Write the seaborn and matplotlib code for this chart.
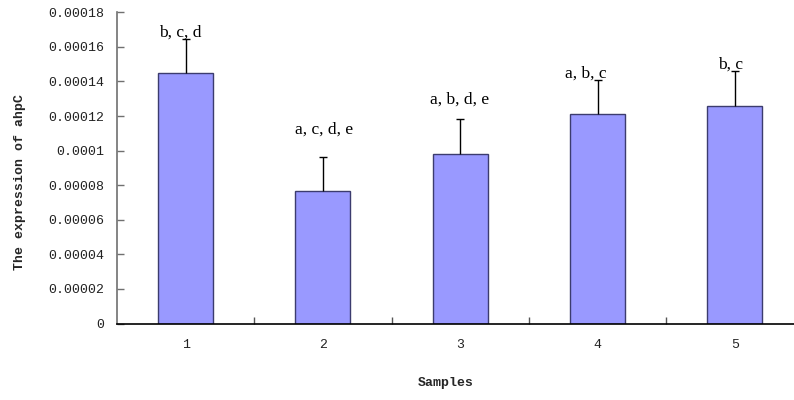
import matplotlib
matplotlib.use("Agg")
import matplotlib.pyplot as plt
import matplotlib.ticker as mticker
import numpy as np
import pandas as pd
import seaborn as sns

# Expression of ahpC per sample, with the upper standard deviation
samples = ["1", "2", "3", "4", "5"]
expression = [0.000145, 0.0000765, 0.000098, 0.000121, 0.000126]
std_dev = [0.0000195, 0.00002, 0.00002, 0.00002, 0.00002]
letters = ["b, c, d", "a, c, d, e", "a, b, d, e", "a, b, c", "b, c"]

# per-label nudge (points) relative to the top of each error bar
label_nudge = [(-3.6, 1.7), (0.7, 16.6), (-0.7, 11.2), (-8.4, 1.4), (-2.9, 1.4)]

df = pd.DataFrame({"Samples": samples, "Expression": expression})

sns.set_theme(style="white")
plt.rcParams["font.family"] = ["Liberation Mono", "DejaVu Sans"]

fig = plt.figure(figsize=(7.94, 4.0), dpi=100)
ax = fig.add_axes([117 / 794, 76.5 / 400, 686.5 / 794, 311.2 / 400])

sns.barplot(data=df, x="Samples", y="Expression", color="#9999FF",
            saturation=1, width=0.40, edgecolor="#3c3c6e", linewidth=1.0,
            errorbar=None, ax=ax)

pos = np.arange(len(samples))
_, caps, _ = ax.errorbar(pos, expression,
                         yerr=[np.zeros(len(std_dev)), std_dev],
                         fmt="none", ecolor="black", elinewidth=1.0,
                         capsize=3, capthick=1.0)
# keep only the upper caps (one-sided error bars)
for cap in caps:
    if np.allclose(cap.get_ydata(), expression):
        cap.set_visible(False)

for x, v, e, txt, (dx, dy) in zip(pos, expression, std_dev, letters, label_nudge):
    ax.annotate(txt, xy=(x, v + e), xytext=(dx, dy), textcoords="offset points",
                ha="center", va="baseline", fontsize=12.5,
                family=["Liberation Serif", "DejaVu Serif"], color="black")

ax.set_xlim(-0.5, 4.5)
ax.set_ylim(0, 0.00018)
ax.yaxis.set_major_locator(mticker.MultipleLocator(0.00002))


def excel_general(v, _):
    s = f"{v:.5f}".rstrip("0").rstrip(".")
    return s if s else "0"


ax.yaxis.set_major_formatter(mticker.FuncFormatter(excel_general))
ax.tick_params(axis="y", direction="in", length=5, width=1, color="#707070",
               pad=9, labelsize=9.5, labelcolor="#222222", left=True)
ax.tick_params(axis="x", which="major", length=0, pad=11, labelsize=9.5,
               labelcolor="#222222")
ax.xaxis.set_minor_locator(mticker.FixedLocator([0.5, 1.5, 2.5, 3.5]))
ax.tick_params(axis="x", which="minor", direction="in", length=5, width=1,
               color="#555555", bottom=True)

for side in ("top", "right"):
    ax.spines[side].set_visible(False)
ax.spines["left"].set_color("#707070")
ax.spines["left"].set_linewidth(1.2)
ax.spines["bottom"].set_color("black")
ax.spines["bottom"].set_linewidth(1.2)

ax.set_xlabel("")
ax.set_ylabel("")
fig.text(20 / 794, 1 - 182 / 400, "The expression of ahpC", rotation=90,
         ha="center", va="center", fontsize=9.5, fontweight="bold")
fig.text(446 / 794, 1 - 383 / 400, "Samples", ha="center", va="center",
         fontsize=9.5, fontweight="bold")

fig.savefig("out.png", dpi=100, facecolor="white")
